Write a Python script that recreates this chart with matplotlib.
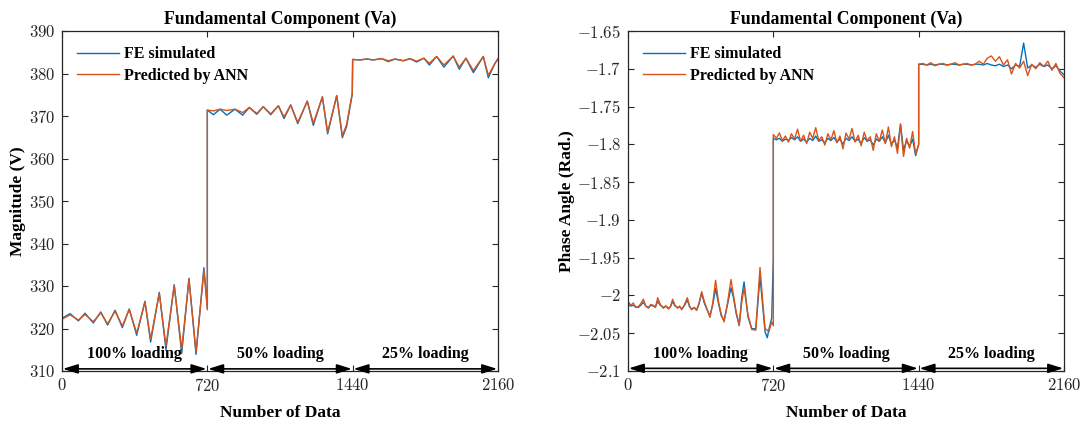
import matplotlib
matplotlib.use("Agg")
import matplotlib.pyplot as plt
from matplotlib.ticker import FuncFormatter
import numpy as np

# fonts: Times-like bold text, Computer Modern tick numbers (MATLAB latex look)
plt.rcParams['font.family'] = ['Liberation Serif', 'DejaVu Serif']
plt.rcParams['mathtext.fontset'] = 'cm'

BLUE = '#0072BD'
ORANGE = '#D95319'
DARK = '#262626'

# ---------------- magnitude (left) ----------------
mag_idx = [0, 40, 81, 114, 155, 192, 226, 263, 299, 333, 370, 411, 439, 482, 515,
           556, 593, 629, 664, 703, 712, 720,
           720, 750, 783, 816, 857, 895, 928, 965, 997, 1034, 1072, 1100, 1133, 1168,
           1215, 1245, 1290, 1316, 1361, 1389, 1410, 1425, 1438,
           1440, 1476, 1510, 1542, 1584, 1616, 1650, 1691, 1724, 1757, 1793, 1820,
           1856, 1892, 1938, 1968, 2001, 2038, 2087, 2112, 2145, 2160]
mag_ann = [322.2, 323.2, 322.0, 323.3, 321.6, 323.7, 321.1, 324.1, 320.6, 324.5, 318.9,
           326.2, 317.5, 328.3, 315.9, 330.1, 315.1, 331.6, 314.5, 333.6, 329.0, 324.4,
           371.4, 371.2, 371.6, 371.3, 371.6, 370.8, 372.0, 370.6, 372.2, 370.5, 372.4,
           369.8, 372.6, 368.5, 373.5, 368.3, 374.5, 366.2, 374.8, 365.3, 368.0, 372.0, 375.3,
           383.3, 383.2, 383.4, 383.2, 383.5, 383.0, 383.4, 383.0, 383.5, 382.9, 383.6,
           382.4, 384.0, 382.0, 384.1, 381.5, 383.6, 380.7, 384.0, 379.6, 382.4, 383.3]
mag_fe = [322.4, 323.5, 321.8, 323.6, 321.3, 323.9, 320.8, 324.3, 320.2, 324.6, 318.4,
          326.4, 316.8, 328.5, 315.0, 330.3, 314.1, 331.8, 313.9, 334.3, 329.4, 324.8,
          371.4, 370.3, 371.6, 370.2, 371.6, 370.2, 372.0, 370.4, 372.2, 370.3, 372.4,
          369.4, 372.6, 368.2, 373.5, 367.8, 374.5, 365.8, 374.8, 364.9, 367.5, 371.6, 375.1,
          383.3, 383.2, 383.4, 383.2, 383.5, 382.8, 383.4, 383.0, 383.5, 382.7, 383.6,
          382.0, 384.0, 381.5, 384.1, 381.0, 383.6, 380.2, 384.0, 379.0, 382.4, 383.5]

# ---------------- phase angle (right) ----------------
ph_idx1 = [0, 14, 26, 38, 51, 63, 76, 88, 101, 113, 125, 136, 147, 160, 175, 188, 200,
           210, 221, 233, 246, 256, 266, 280, 294, 305, 315, 328, 340, 352, 365, 378,
           390, 406, 420, 434, 448, 462, 476, 493, 510, 522, 536, 551, 563, 575, 594,
           613, 633, 654, 668, 679, 690, 698, 712, 720]
ph_ann1 = [-2.008, -2.013, -2.010, -2.016, -2.015, -2.011, -2.005, -2.014, -2.017, -2.012,
           -2.013, -2.016, -2.003, -2.012, -2.017, -2.014, -2.018, -2.015, -2.005, -2.013,
           -2.017, -2.014, -2.019, -2.012, -2.003, -2.014, -2.019, -2.016, -2.020, -2.010,
           -1.995, -2.008, -2.017, -2.029, -2.010, -1.980, -2.008, -2.025, -2.035, -2.010,
           -1.979, -1.999, -2.022, -2.039, -2.010, -1.990, -2.025, -2.045, -2.046, -1.963,
           -2.010, -2.044, -2.046, -2.048, -2.035, -2.040]
ph_fe1 = [-2.012, -2.014, -2.013, -2.015, -2.016, -2.013, -2.009, -2.014, -2.016, -2.013,
          -2.014, -2.015, -2.008, -2.013, -2.016, -2.014, -2.017, -2.015, -2.008, -2.014,
          -2.016, -2.015, -2.018, -2.013, -2.006, -2.015, -2.018, -2.016, -2.019, -2.011,
          -1.997, -2.010, -2.018, -2.027, -2.012, -1.991, -2.010, -2.027, -2.033, -2.012,
          -1.990, -2.002, -2.024, -2.040, -2.004, -1.982, -2.028, -2.044, -2.044, -1.975,
          -2.015, -2.048, -2.056, -2.045, -2.030, -1.950]

ph_idx2 = np.arange(720, 1441, 15)
ph_ann2 = [-1.787, -1.792, -1.785, -1.795, -1.789, -1.797, -1.786, -1.793, -1.780, -1.796,
           -1.788, -1.799, -1.784, -1.792, -1.778, -1.795, -1.790, -1.801, -1.786, -1.794,
           -1.782, -1.798, -1.789, -1.806, -1.785, -1.793, -1.779, -1.797, -1.788, -1.802,
           -1.784, -1.795, -1.790, -1.808, -1.786, -1.796, -1.781, -1.799, -1.777, -1.803,
           -1.790, -1.812, -1.774, -1.816, -1.792, -1.805, -1.783, -1.813, -1.800]
ph_fe2 = [-1.792, -1.794, -1.792, -1.796, -1.793, -1.795, -1.791, -1.794, -1.790, -1.796,
          -1.793, -1.797, -1.792, -1.795, -1.789, -1.796, -1.794, -1.798, -1.792, -1.795,
          -1.791, -1.797, -1.793, -1.800, -1.792, -1.795, -1.790, -1.796, -1.793, -1.799,
          -1.791, -1.796, -1.794, -1.801, -1.793, -1.796, -1.790, -1.798, -1.788, -1.800,
          -1.794, -1.805, -1.773, -1.808, -1.795, -1.803, -1.793, -1.815, -1.800]

ph_idx3 = np.arange(1440, 2161, 20)
ph_ann3 = [-1.694, -1.693, -1.695, -1.692, -1.696, -1.694, -1.693, -1.695, -1.694, -1.692,
           -1.695, -1.694, -1.693, -1.695, -1.694, -1.690, -1.694, -1.686, -1.683, -1.690,
           -1.684, -1.695, -1.688, -1.707, -1.693, -1.699, -1.690, -1.709, -1.694, -1.700,
           -1.692, -1.697, -1.690, -1.702, -1.693, -1.706, -1.712]
ph_fe3 = [-1.694, -1.694, -1.695, -1.694, -1.695, -1.694, -1.694, -1.695, -1.694, -1.694,
          -1.695, -1.694, -1.694, -1.695, -1.694, -1.694, -1.695, -1.693, -1.695, -1.696,
          -1.694, -1.697, -1.695, -1.700, -1.695, -1.697, -1.666, -1.699, -1.695, -1.698,
          -1.694, -1.697, -1.695, -1.700, -1.696, -1.703, -1.708]

ph_idx = np.concatenate([ph_idx1, ph_idx2, ph_idx3])
ph_ann = np.concatenate([ph_ann1, ph_ann2, ph_ann3])
ph_fe = np.concatenate([ph_fe1, ph_fe2, ph_fe3])

x_ticks = [0, 720, 1440, 2160]
segments = [(0, 720, '100% loading'), (720, 1440, '50% loading'), (1440, 2160, '25% loading')]

fig = plt.figure(figsize=(10.85, 4.23), dpi=100)
ax_m = fig.add_axes([62/1085, 1-371/423, 436/1085, 340/423])
ax_p = fig.add_axes([628/1085, 1-371/423, 436/1085, 340/423])

ax_m.plot(mag_idx, mag_fe, color=BLUE, lw=1.0, label='FE simulated')
ax_m.plot(mag_idx, mag_ann, color=ORANGE, lw=1.0, label='Predicted by ANN')
ax_p.plot(ph_idx, ph_fe, color=BLUE, lw=1.0, label='FE simulated')
ax_p.plot(ph_idx, ph_ann, color=ORANGE, lw=1.0, label='Predicted by ANN')

ax_m.set_ylim(310, 390)
ax_m.set_yticks(np.arange(310, 391, 10))
ax_p.set_ylim(-2.1, -1.65)
ax_p.set_yticks(np.arange(-2.1, -1.649, 0.05))

fmt = FuncFormatter(lambda v, pos: r'$%g$' % round(v, 3))

for ax, ylab, ytxt, yarr in [(ax_m, 'Magnitude (V)', 314.0, 310.5),
                             (ax_p, 'Phase Angle (Rad.)', -2.077, -2.0965)]:
    ax.set_xlim(0, 2160)
    ax.set_xticks(x_ticks)
    ax.xaxis.set_major_formatter(fmt)
    ax.yaxis.set_major_formatter(fmt)
    ax.tick_params(direction='in', top=True, right=True, length=4, width=0.8,
                   labelsize=12, colors=DARK, labelcolor=DARK, pad=5)
    for s in ax.spines.values():
        s.set_color(DARK)
        s.set_linewidth(0.9)
    ax.set_title('Fundamental Component (Va)', pad=5, fontweight='bold', fontsize=12.8)
    ax.set_xlabel('Number of Data', labelpad=7, fontweight='bold', fontsize=12.5)
    ax.set_ylabel(ylab, labelpad=2, fontweight='bold', fontsize=12.5)
    ax.legend(loc='upper left', frameon=False, prop=dict(weight='bold', size=11.5),
              handlelength=2.6, handletextpad=0.35, labelspacing=0.35,
              borderaxespad=0.55)
    for a, b, txt in segments:
        ax.annotate('', xy=(a + 4, yarr), xytext=(b - 4, yarr),
                    arrowprops=dict(arrowstyle='<|-|>,head_length=0.9,head_width=0.28',
                                    color='black', lw=1.2, shrinkA=0, shrinkB=0))
        ax.text((a + b) / 2, ytxt, txt, ha='center', va='center',
                fontweight='bold', fontsize=11.5)

fig.savefig('out.png', dpi=100)
